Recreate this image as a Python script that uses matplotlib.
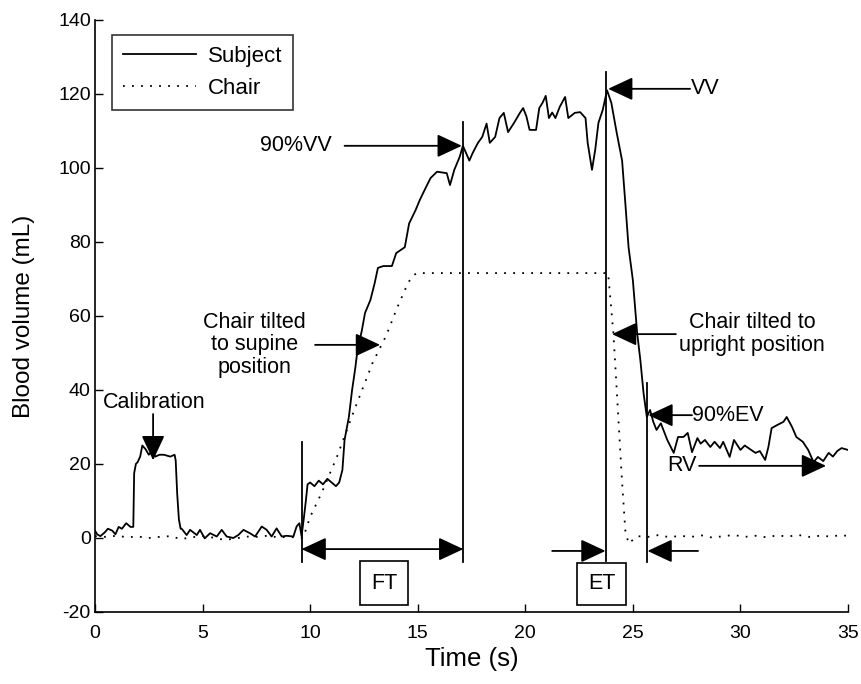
import matplotlib
matplotlib.use("Agg")
import matplotlib.pyplot as plt
from matplotlib.patches import Rectangle

plt.rcParams['font.family'] = ['Liberation Sans', 'DejaVu Sans']
plt.rcParams['axes.unicode_minus'] = False

# ---- Subject curve (time s, blood volume mL) ----
subj_t = [0.0, 0.1, 0.25, 0.45, 0.6, 0.8, 0.95, 1.1, 1.25, 1.45, 1.65, 1.78,
          1.82, 1.9, 1.98, 2.1, 2.2, 2.35, 2.5, 2.65, 2.8, 3.0, 3.2, 3.5, 3.7, 3.75, 3.82, 3.9, 3.98,
          4.03, 4.26, 4.42, 4.73, 4.88, 5.1, 5.35, 5.66, 5.89, 6.12, 6.43, 6.66, 6.9, 7.2, 7.44,
          7.75, 7.98, 8.21, 8.44, 8.68, 8.91, 9.22, 9.37, 9.5, 9.6,
          9.7, 9.8, 9.88, 10.0, 10.2, 10.4, 10.6, 10.8, 11.0, 11.2, 11.35,
          11.5, 11.6, 11.8, 11.95, 12.1, 12.2, 12.4, 12.55, 12.8, 13.0, 13.15, 13.4, 13.8,
          14.0, 14.4, 14.6, 14.9, 15.1, 15.4, 15.6, 15.9, 16.35, 16.5, 16.7, 16.95, 17.1,
          17.4, 17.55, 17.8, 18.0, 18.2, 18.35, 18.6, 18.8, 19.0, 19.2, 19.5, 19.75, 19.9,
          20.05, 20.2, 20.5, 20.65, 20.8, 20.95, 21.1, 21.25, 21.4, 21.6, 21.85, 22.0,
          22.3, 22.55, 22.8, 22.9, 23.1, 23.25, 23.4, 23.6, 23.8,
          24.0, 24.25, 24.5, 24.65, 24.8, 25.0, 25.2, 25.35, 25.5, 25.65, 25.8,
          25.95, 26.1, 26.3, 26.6, 26.9, 27.1, 27.35, 27.55, 27.75, 28.0, 28.15, 28.35,
          28.6, 28.8, 29.05, 29.2, 29.5, 29.7, 30.0, 30.2, 30.45, 30.7, 30.9, 31.15,
          31.3, 31.45, 31.7, 32.0, 32.15, 32.4, 32.6, 32.9, 33.15, 33.4, 33.6, 33.85,
          34.1, 34.3, 34.5, 34.7, 35.0]
subj_v = [2.0, 1.0, 0.5, 1.5, 2.5, 2.0, 1.0, 3.0, 2.5, 4.0, 3.0, 3.0,
          17.5, 20.0, 20.5, 22.0, 25.0, 24.0, 22.5, 23.5, 22.0, 22.5, 22.5, 22.0, 22.5, 21.0, 12.0, 5.0, 2.5,
          2.5, 0.8, 2.2, 0.8, 2.2, -0.1, 1.3, 0.4, 2.2, 0.4, 0.0, 0.8, 2.2, 1.3, 0.4,
          3.1, 2.2, 0.4, 2.6, 0.4, 0.6, 0.4, 3.1, 4.0, 0.5,
          5.0, 10.0, 14.5, 15.0, 14.0, 15.5, 14.5, 16.0, 15.0, 14.0, 15.0,
          18.4, 26.5, 32.7, 40.0, 46.0, 50.8, 56.0, 60.8, 64.3, 68.9, 73.0, 73.5, 73.5,
          77.0, 78.6, 85.0, 88.6, 91.4, 95.0, 97.3, 99.0, 98.6, 95.4, 99.5, 103.0, 106.0,
          102.0, 104.0, 106.8, 108.4, 112.0, 106.8, 108.4, 113.5, 114.9, 109.7, 112.4, 114.9, 116.2,
          114.0, 110.3, 110.3, 116.2, 117.6, 119.5, 113.5, 115.0, 113.5, 116.5, 119.2, 113.5,
          114.9, 115.1, 113.5, 106.8, 99.5, 104.9, 112.2, 115.7, 121.0,
          117.6, 109.5, 102.0, 90.5, 78.6, 69.7, 55.4, 48.0, 39.0, 32.7, 34.6,
          31.4, 29.2, 31.0, 26.5, 23.0, 27.3, 27.3, 28.4, 23.2, 27.0, 25.5, 26.5,
          24.6, 26.0, 24.3, 26.0, 21.9, 26.5, 23.8, 25.0, 24.0, 23.0, 23.5, 21.1,
          24.6, 29.7, 30.5, 31.4, 32.7, 30.0, 27.3, 26.0, 23.8, 20.5, 21.9, 20.8,
          23.0, 22.0, 23.5, 24.3, 23.8]

# ---- Chair curve ----
chair_t = [0.0, 0.5, 1.0, 1.5, 2.0, 2.5, 3.0, 3.5, 4.0, 4.5, 5.0, 5.5, 6.0, 6.5, 7.0,
           7.5, 8.0, 8.5, 9.0, 9.67, 10.0, 10.55, 11.25, 12.0, 12.9, 13.55, 14.0, 14.4,
           14.7, 14.95, 16.0, 18.0, 20.0, 22.0, 23.85, 24.1, 24.3, 24.5, 24.65, 24.8,
           25.2, 25.7, 26.2, 26.7, 27.2, 27.7, 28.2, 28.7, 29.2, 29.7, 30.2, 30.7, 31.2,
           31.7, 32.2, 32.7, 33.2, 33.7, 34.2, 34.7, 35.0]
chair_v = [0.5, 0.3, 0.6, 0.2, 0.4, 0.0, 0.3, 0.5, -0.3, 0.2, 0.5, 0.1, -0.5, -0.2, 0.4,
           0.3, 0.6, 0.2, 0.3, 0.0, 5.7, 12.4, 22.0, 33.8, 47.3, 54.9, 61.6, 67.0,
           70.5, 71.6, 71.6, 71.6, 71.6, 71.6, 71.6, 55.0, 35.0, 15.0, 2.0, -1.5,
           0.5, 0.3, 0.8, 0.2, 0.6, 0.3, 0.7, 0.1, 0.5, 0.8, 0.3, 0.6, 0.2,
           0.7, 0.4, 0.8, 0.3, 0.6, 0.4, 0.8, 0.5]

# ---- markers / annotations (data units) ----
vlines_t = [9.6, 17.12, 23.73, 25.68]
vlines_lo = [-6.5, -6.5, -6.2, -6.5]
vlines_hi = [26.0, 112.4, 126.0, 42.0]

xticks = [0, 5, 10, 15, 20, 25, 30, 35]
yticks = [-20, 0, 20, 40, 60, 80, 100, 120, 140]

fig = plt.figure(figsize=(8.61, 6.84), dpi=100)
ax = fig.add_axes([95/861, 72/684, 753/861, 592/684])

ax.plot(subj_t, subj_v, color='k', lw=1.3, label='Subject')
ax.plot(chair_t, chair_v, color='k', lw=1.3, ls=(0, (1, 4)), label='Chair')

for t, lo, hi in zip(vlines_t, vlines_lo, vlines_hi):
    ax.plot([t, t], [lo, hi], color='k', lw=1.3)

ap = dict(arrowstyle='-|>,head_length=0.9,head_width=0.42', color='k', lw=1.3,
          mutation_scale=17, shrinkA=0, shrinkB=0)
ap2 = dict(arrowstyle='<|-|>,head_length=0.9,head_width=0.42', color='k', lw=1.3,
           mutation_scale=17, shrinkA=0, shrinkB=0)

fs = 15.5
# Calibration
ax.text(2.75, 36.5, 'Calibration', ha='center', va='center', fontsize=fs)
ax.annotate('', xy=(2.7, 21), xytext=(2.7, 33.5), arrowprops=ap)
# supine
ax.text(7.4, 52.2, 'Chair tilted\nto supine\nposition', ha='center', va='center',
        fontsize=fs, linespacing=1.1)
ax.annotate('', xy=(13.25, 52.2), xytext=(10.23, 52.2), arrowprops=ap)
# 90%VV
ax.text(9.35, 106, '90%VV', ha='center', va='center', fontsize=fs)
ax.annotate('', xy=(17.05, 106), xytext=(11.6, 106), arrowprops=ap)
# VV
ax.annotate('', xy=(23.85, 121.4), xytext=(27.66, 121.4), arrowprops=ap)
ax.text(27.7, 121.4, 'VV', ha='left', va='center', fontsize=fs)
# upright
ax.annotate('', xy=(24.03, 55.1), xytext=(27.0, 55.1), arrowprops=ap)
ax.text(30.55, 55.1, 'Chair tilted to\nupright position', ha='center', va='center',
        fontsize=fs, linespacing=1.1)
# 90%EV
ax.annotate('', xy=(25.72, 33.2), xytext=(27.75, 33.2), arrowprops=ap)
ax.text(27.75, 33.2, '90%EV', ha='left', va='center', fontsize=fs)
# RV
ax.text(26.6, 19.5, 'RV', ha='left', va='center', fontsize=fs)
ax.annotate('', xy=(33.98, 19.5), xytext=(28.08, 19.5), arrowprops=ap)
# FT
ax.annotate('', xy=(17.12, -3), xytext=(9.6, -3), arrowprops=ap2)
ax.add_patch(Rectangle((12.32, -18.1), 2.23, 11.9, fill=False, ec='k', lw=1.2))
ax.text(13.44, -12.2, 'FT', ha='center', va='center', fontsize=fs)
# ET
ax.annotate('', xy=(23.73, -3.5), xytext=(21.25, -3.5), arrowprops=ap)
ax.annotate('', xy=(25.68, -3.5), xytext=(28.03, -3.5), arrowprops=ap)
ax.add_patch(Rectangle((22.41, -18.1), 2.28, 11.3, fill=False, ec='k', lw=1.2))
ax.text(23.55, -12.4, 'ET', ha='center', va='center', fontsize=fs)

ax.set_xlim(0, 35)
ax.set_ylim(-20, 140)
ax.set_xticks(xticks)
ax.set_yticks(yticks)
ax.tick_params(direction='in', length=6, width=1, labelsize=14)
ax.tick_params(axis='x', pad=9)
ax.tick_params(axis='y', pad=3)
for s in ['top', 'right']:
    ax.spines[s].set_visible(False)
for s in ['left', 'bottom']:
    ax.spines[s].set_linewidth(1.2)
ax.set_xlabel('Time (s)', fontsize=18.5, labelpad=4)
ax.set_ylabel('Blood volume (mL)', fontsize=17.5)
ax.yaxis.set_label_coords(-60/753, 0.5)

leg = ax.legend(loc='upper left', fontsize=16, frameon=True, fancybox=False,
                edgecolor='k', borderpad=0.5, handlelength=3.3, handletextpad=0.5,
                labelspacing=0.5, borderaxespad=0)
leg.get_frame().set_linewidth(1.2)
leg.set_bbox_to_anchor((17/753, 1 - 15/592), transform=ax.transAxes)

fig.savefig('out.png', dpi=100)
